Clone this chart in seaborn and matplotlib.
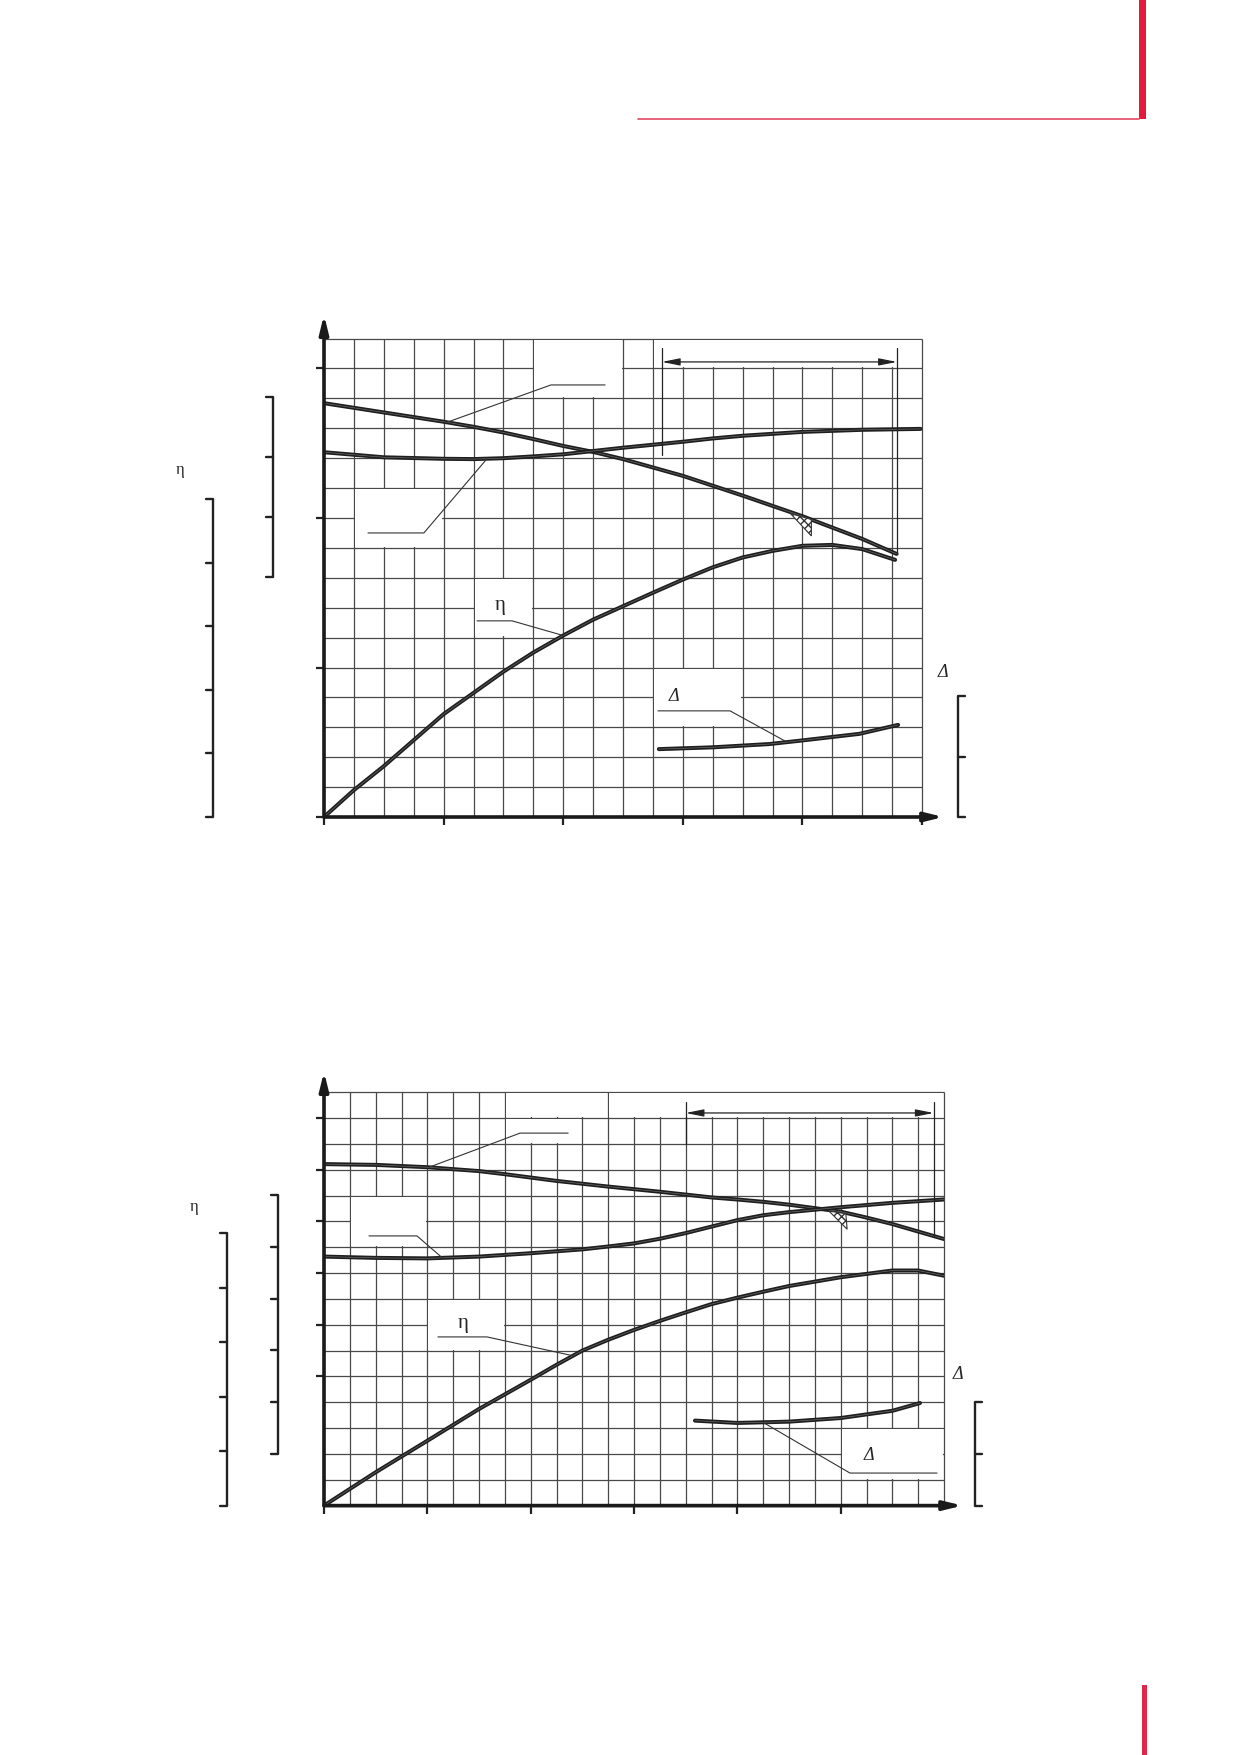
import matplotlib
matplotlib.use("Agg")
import matplotlib.pyplot as plt
from matplotlib.patches import Rectangle, Polygon
import seaborn as sns

sns.set_theme(style="white")
plt.rcParams["font.family"] = ["Liberation Serif", "DejaVu Serif"]

W, H = 1239, 1756

# ---- chart 1 (values in grid cells: flow 0..20, scale 0..16) ----
head1_q = [0, 2, 4, 5, 6, 7, 8, 9, 10, 11, 12, 14, 16, 18, 19.15]
head1 = [13.84, 13.53, 13.22, 13.05, 12.86, 12.64, 12.41, 12.21, 11.97, 11.69, 11.41, 10.75, 10.06, 9.3, 8.8]
power1_q = [0, 2, 4, 5, 6, 7, 8, 9, 10, 11, 12, 13, 14, 16, 18, 19.95]
power1 = [12.2, 12.03, 11.98, 11.97, 12.0, 12.06, 12.13, 12.24, 12.35, 12.45, 12.55, 12.66, 12.75, 12.88, 12.95, 12.98]
eta1_q = [0, 1, 2, 4, 6, 7, 8, 9, 10, 11, 12, 13, 14, 15, 16, 17, 18, 19.1]
eta1 = [0, 0.9, 1.7, 3.44, 4.86, 5.5, 6.07, 6.6, 7.05, 7.5, 7.94, 8.35, 8.68, 8.9, 9.07, 9.1, 8.96, 8.6]
npsh1_q = [11.2, 13, 14.9, 15.9, 17.9, 19.2]
npsh1 = [2.27, 2.33, 2.44, 2.55, 2.78, 3.08]

# ---- chart 2 (flow 0..24, scale 0..16) ----
head2_q = [0, 2, 4, 6, 7, 8, 9, 10, 11, 12, 13, 14, 15, 16, 17, 18, 20, 21, 22, 24]
head2 = [13.22, 13.19, 13.1, 12.95, 12.83, 12.7, 12.57, 12.46, 12.35, 12.25, 12.15, 12.04, 11.93,
         11.85, 11.76, 11.65, 11.38, 11.15, 10.9, 10.32]
power2_q = [0, 2, 4, 6, 8, 10, 11, 12, 13, 14, 15, 16, 17, 18, 20, 22, 24]
power2 = [9.64, 9.59, 9.57, 9.64, 9.77, 9.92, 10.03, 10.15, 10.33, 10.55, 10.8, 11.05, 11.24, 11.36,
          11.55, 11.72, 11.85]
eta2_q = [0, 2, 4, 6, 8, 9, 10, 11, 12, 13, 14, 15, 16, 17, 18, 20, 22, 23, 24]
eta2 = [0, 1.29, 2.51, 3.74, 4.87, 5.45, 6.0, 6.42, 6.8, 7.15, 7.48, 7.8, 8.05, 8.28, 8.5, 8.84,
        9.1, 9.1, 8.9]
npsh2_q = [14.36, 16, 18, 20, 22, 23.07]
npsh2 = [3.29, 3.2, 3.25, 3.39, 3.67, 3.97]

GRID = "#484848"
CURVE = "#1e1e1e"

fig = plt.figure(figsize=(W / 100, H / 100), dpi=100)

# page layer in pixel coordinates
page = fig.add_axes([0, 0, 1, 1])
page.set_xlim(0, W)
page.set_ylim(H, 0)
page.axis("off")
page.add_patch(Rectangle((1139, 0), 7, 120, color="#e31b3b", lw=0))
page.plot([638, 1139], [120, 120], color="#e4566c", lw=1.3)
page.add_patch(Rectangle((1142, 1686), 5, 70, color="#e0264a", lw=0))


def bracket(x, y0, y1, n, side=-1):
    page.plot([x, x], [y0, y1], color="#222", lw=1.7, solid_capstyle="butt")
    step = (y1 - y0) / n
    for i in range(n + 1):
        yy = y0 + i * step
        page.plot([x, x + side * 7], [yy, yy], color="#222", lw=1.7)


bracket(273, 398, 578, 3)
bracket(213, 500, 818, 5)
bracket(958, 697, 818, 2, side=1)
page.text(180, 470, "η", fontsize=12, ha="center", va="center")
page.text(943, 673, "Δ", fontsize=13, style="italic", ha="center", va="center")

bracket(278, 1196, 1455, 5)
bracket(227, 1234, 1507, 5)
bracket(975, 1403, 1507, 2, side=1)
page.text(194, 1207, "η", fontsize=12, ha="center", va="center")
page.text(958, 1375, "Δ", fontsize=13, style="italic", ha="center", va="center")


def chart(rect_px, ncols, nrows, xticks, yticks, boxes):
    x0, yb, w, h = rect_px
    ax = fig.add_axes([x0 / W, 1 - yb / H, w / W, h / H])
    ax.set_xlim(0, ncols)
    ax.set_ylim(0, nrows)
    ax.patch.set_alpha(0)
    for s in ax.spines.values():
        s.set_visible(False)
    ax.vlines(range(ncols + 1), 0, nrows, colors=GRID, lw=0.9, zorder=1, clip_on=False)
    ax.hlines(range(nrows + 1), 0, ncols, colors=GRID, lw=0.9, zorder=1, clip_on=False)
    for (bx0, by0, bx1, by1) in boxes:
        ax.add_patch(Rectangle((bx0 + 0.04, by0 + 0.04), bx1 - bx0 - 0.08, by1 - by0 - 0.08,
                               facecolor="white", lw=0, zorder=2))
    ax.set_xticks(xticks)
    ax.set_yticks(yticks)
    ax.tick_params(length=6, width=1.6, color="#222", direction="out",
                   labelbottom=False, labelleft=False, bottom=True, left=True)
    ax.annotate("", xy=(0, nrows + 0.8), xytext=(0, 0), annotation_clip=False,
                arrowprops=dict(arrowstyle="-|>,head_length=0.9,head_width=0.22",
                                lw=2.6, color="#1a1a1a", shrinkA=0, shrinkB=0), zorder=6)
    ax.annotate("", xy=(ncols + 0.72, 0), xytext=(0, 0), annotation_clip=False,
                arrowprops=dict(arrowstyle="-|>,head_length=0.9,head_width=0.22",
                                lw=2.6, color="#1a1a1a", shrinkA=0, shrinkB=0), zorder=6)
    return ax


def curve(ax, q, v):
    sns.lineplot(x=q, y=v, ax=ax, color=CURVE, lw=2.9, zorder=4, legend=False)
    sns.lineplot(x=q, y=v, ax=ax, color="#707070", lw=0.45, zorder=4, legend=False)


def leader(ax, pts):
    xs, ys = zip(*pts)
    ax.plot(xs, ys, color="#333", lw=0.8, zorder=5)


def dimension(ax, xa, xb, y, top, ya, yb):
    ax.annotate("", xy=(xb, y), xytext=(xa, y),
                arrowprops=dict(arrowstyle="<|-|>,head_length=0.9,head_width=0.18",
                                lw=0.9, color="#222", shrinkA=0, shrinkB=0), zorder=5)
    ax.plot([xa, xa], [top, ya], color="#222", lw=0.9, zorder=5)
    ax.plot([xb, xb], [top, yb], color="#222", lw=0.9, zorder=5)


# chart 1
ax1 = chart((324, 818, 598, 478.4), 20, 16, [0, 4, 8, 12, 16, 20], [0, 5, 10, 15],
            [(7, 14, 10, 16), (11, 15, 20, 16), (1, 9, 4, 11), (5, 6, 7, 8), (11, 3, 14, 5)])
for q, v in [(head1_q, head1), (power1_q, power1), (eta1_q, eta1), (npsh1_q, npsh1)]:
    curve(ax1, q, v)
leader(ax1, [(9.4, 14.45), (7.59, 14.45), (4.11, 13.2)])
leader(ax1, [(1.47, 9.5), (3.34, 9.5), (5.45, 11.98)])
leader(ax1, [(5.12, 6.56), (6.29, 6.56), (8.0, 6.07)])
leader(ax1, [(11.17, 3.55), (13.58, 3.55), (15.42, 2.54)])
ax1.text(5.9, 7.1, "η", fontsize=15, ha="center", va="center", zorder=6)
ax1.text(11.7, 4.08, "Δ", fontsize=13, style="italic", ha="center", va="center", zorder=6)
dimension(ax1, 11.3, 19.16, 15.22, 15.7, 12.1, 8.8)
ax1.add_patch(Polygon([(15.6, 10.15), (16.3, 9.95), (16.3, 9.4)], closed=True,
                      facecolor="white", edgecolor="#333", hatch="xxxx", lw=0.8, zorder=5))

# chart 2
ax2 = chart((324, 1506.6, 620, 413.3), 24, 16, [0, 4, 8, 12, 16, 20], [5, 7, 9, 11, 13, 15],
            [(7, 14, 10, 15), (7, 15, 11, 16), (11, 15, 24, 16), (1, 10, 4, 12),
             (4, 6, 7, 8), (20, 1, 24, 3)])
for q, v in [(head2_q, head2), (power2_q, power2), (eta2_q, eta2), (npsh2_q, npsh2)]:
    curve(ax2, q, v)
leader(ax2, [(9.45, 14.42), (7.59, 14.42), (4.07, 13.1)])
leader(ax2, [(1.74, 10.44), (3.6, 10.44), (4.57, 9.6)])
leader(ax2, [(4.41, 6.53), (6.31, 6.53), (9.64, 5.8)])
leader(ax2, [(23.73, 1.26), (20.36, 1.26), (17.0, 3.22)])
ax2.text(5.38, 7.1, "η", fontsize=15, ha="center", va="center", zorder=6)
ax2.text(21.1, 1.99, "Δ", fontsize=13, style="italic", ha="center", va="center", zorder=6)
dimension(ax2, 14.0, 23.6, 15.2, 15.62, 14.0, 10.45)
ax2.add_patch(Polygon([(19.55, 11.4), (20.2, 11.3), (20.25, 10.7)], closed=True,
                      facecolor="white", edgecolor="#333", hatch="xxxx", lw=0.8, zorder=5))

fig.savefig("out.png", dpi=100)
